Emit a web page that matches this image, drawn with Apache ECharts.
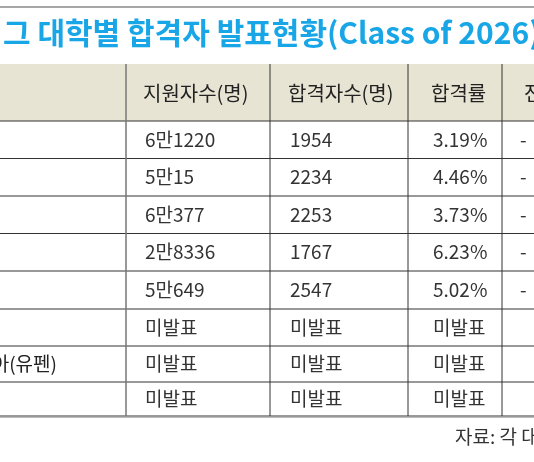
<!DOCTYPE html>
<html><head><meta charset="utf-8">
<script src="https://cdn.jsdelivr.net/npm/echarts@6/dist/echarts.min.js"></script>
<style>html,body{margin:0;padding:0;background:#fff}#c{width:534px;height:462px}</style>
</head><body><div id="c"></div>
<script>
const headers = ['대학', '지원자수(명)', '합격자수(명)', '합격률', '전년대비'];
const schools = ['하버드', '예일', '프린스턴', '컬럼비아', '브라운', '다트머스', '펜실베이니아(유펜)', '코넬'];
const applicants = ['6만1220', '5만15', '6만377', '2만8336', '5만649', '미발표', '미발표', '미발표'];
const admitted = ['1954', '2234', '2253', '1767', '2547', '미발표', '미발표', '미발표'];
const rates = ['3.19%', '4.46%', '3.73%', '6.23%', '5.02%', '미발표', '미발표', '미발표'];
const change = ['-', '-', '-', '-', '-', '', '', ''];

const font = '"Noto Sans CJK KR", "Noto Sans", sans-serif';
const bodyFont = '19px ' + font;
const ctx = document.createElement('canvas').getContext('2d');
ctx.font = bodyFont;
const nameX = 57 - ctx.measureText(schools[6]).width;
const rowTops = [121, 158.5, 196, 233.5, 271, 309, 346, 382];
const rowBottom = 416;
const colX = [126, 270, 408, 502];
const textX = [nameX, 145, 290, 433, 520];
const els = [];
els.push({type:'line', shape:{x1:0,y1:7,x2:534,y2:7}, style:{stroke:'#888',lineWidth:1.5}});
els.push({type:'text', style:{x:2,y:33,text:'아이비리',align:'right',verticalAlign:'middle',font:'bold 30px '+font,fill:'#18a6e6'}});
els.push({type:'text', style:{x:3,y:33,text:'그 대학별 합격자 발표현황(Class of 2026)',align:'left',verticalAlign:'middle',font:'bold 30px '+font,fill:'#18a6e6'}});
els.push({type:'rect', shape:{x:0,y:64,width:534,height:57}, style:{fill:'#e7e4d3'}});
headers.forEach((h,i)=>{ if(i===0) return;
  els.push({type:'text', style:{x:i===4?524:textX[i]-2,y:93,text:h,verticalAlign:'middle',font:'20px '+font,fill:'#222'}});
});
const cols = [applicants, admitted, rates, change];
schools.forEach((s,r)=>{
  const top=rowTops[r], bot = r<7?rowTops[r+1]:rowBottom, cy=(top+bot)/2;
  els.push({type:'text', style:{x:nameX,y:cy,text:s,verticalAlign:'middle',font:bodyFont,fill:'#222'}});
  cols.forEach((arr,c)=>{
    els.push({type:'text', style:{x:textX[c+1],y:cy,text:arr[r],verticalAlign:'middle',font:bodyFont,fill:'#333'}});
  });
});
[121].concat(rowTops.slice(1)).concat([rowBottom]).forEach(y=>{
  els.push({type:'line', shape:{x1:0,y1:y,x2:534,y2:y}, style:{stroke:'#333',lineWidth:1}});
});
els.push({type:'line', shape:{x1:0,y1:rowBottom+1.5,x2:534,y2:rowBottom+1.5}, style:{stroke:'#bbb',lineWidth:1}});
colX.forEach((x,i)=>{
  els.push({type:'line', shape:{x1:x,y1:64,x2:x,y2:rowBottom}, style:{stroke:i===0?'#777':'#333',lineWidth:i===0?1.5:1}});
});
els.push({type:'text', style:{x:455,y:437,text:'자료: 각 대학',verticalAlign:'middle',font:bodyFont,fill:'#333'}});
const chart = echarts.init(document.getElementById('c'));
chart.setOption({backgroundColor:'#fff', graphic:{elements:els}});
</script></body></html>
